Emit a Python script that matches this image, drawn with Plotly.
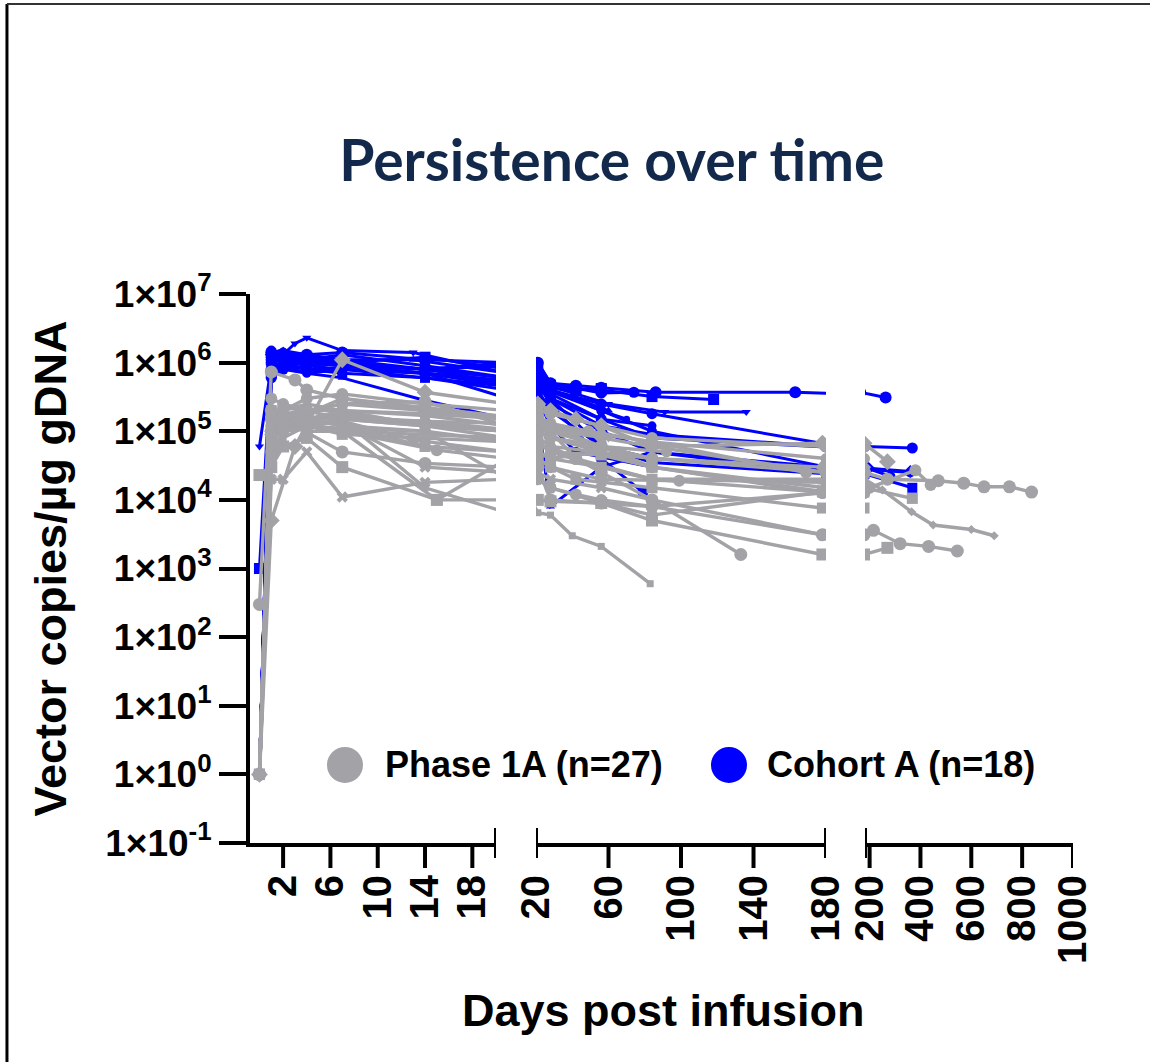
import plotly.graph_objects as go

GRAY = "#A2A2A7"
BLUE = "#0000FF"

# ---------------- data ----------------
# Phase 1A (n=27) : days post infusion / vector copies per ug gDNA
phase1a_days = [
    [0, 1, 3, 4, 7, 14, 21, 28, 35, 56, 84, 180, 270, 470, 570, 650, 750, 837],
    [0, 1, 3, 7, 14, 21, 28, 42, 56, 84, 178, 270],
    [0, 1, 2, 4, 7, 15, 21, 28, 56, 84, 178, 270],
    [0, 1, 2, 4, 7, 14, 21, 28, 40, 56, 83],
    [0, 1, 2, 4, 7, 14, 21, 28, 42, 56, 84, 133],
    [0, 1, 2, 4, 7, 14, 21, 28, 56, 84, 178],
    [0, 1, 3, 7, 14, 21, 28, 56, 84, 178, 215, 320, 432, 545],
    [0, 1, 2, 4, 7, 14, 21, 28, 56, 84, 178],
    [0, 1, 2, 4, 7, 14, 21, 28, 42, 84, 178],
    [0, 1, 2, 4, 7, 14, 21, 28, 56, 84, 180, 250, 365, 450, 600, 690],
    [0, 1, 2, 4, 7, 14, 21, 28, 56, 84, 180],
    [0, 1, 2, 4, 7, 13, 21, 28, 56, 84],
    [0, 1, 2, 4, 7, 14, 21, 28, 49, 84, 169],
    [0, 1, 2, 4, 7, 15, 21, 28, 56, 99],
    [0, 1, 2, 4, 7, 14, 21, 28, 56, 84, 180],
    [0, 1, 2, 4, 7, 15, 21, 28, 42, 84, 178],
    [0, 1, 2, 4, 7, 14, 21, 28, 56, 84, 180, 368],
    [0, 1, 2, 4, 7, 14, 21, 28, 56, 92],
    [0, 1, 2, 4, 7, 14, 21, 28, 56, 84, 180, 200, 380, 440],
    [0, 1, 2, 4, 7, 14, 21, 28, 56, 84, 178],
    [0, 1, 2, 4, 7, 14, 21, 28, 60],
    [0, 1, 2, 4, 7, 14, 21, 28, 42, 56, 84, 178],
    [0, 1, 2, 4, 7, 14, 21, 28, 84],
    [0, 1, 2, 4, 7, 14, 21, 28, 56, 84, 178],
    [0, 1, 2, 4, 7, 14, 21, 28, 56, 84, 180],
    [0, 1, 2, 4, 7, 14, 21, 28, 56, 84, 178],
    [0, 1, 2, 4, 7, 14, 21, 28, 66],
]
phase1a_values = [
    [300, 7.3e5, 5.6e5, 4e5, 3e5, 2.2e5, 1.6e5, 1.2e5, 1e5, 6e4, 4e4, 2.5e4, 2e4, 1.9e4, 1.75e4, 1.55e4, 1.55e4, 1.3e4],
    [1, 5e3, 6e4, 1.1e6, 3.7e5, 2.5e5, 2e5, 1.5e5, 1.2e5, 6e4, 6.7e4, 3.6e4],
    [2.3e4, 3e4, 6e4, 8e4, 3e4, 1e4, 1e4, 9.5e3, 9e3, 5e3, 1.6e3, 2e3],
    [1, 3e4, 8e4, 1.2e5, 1.5e5, 1.5e4, 6.5e3, 6e3, 3e3, 2.1e3, 6e2],
    [1, 2e5, 1.5e5, 2e5, 2.5e5, 2.7e5, 1.2e5, 1e5, 4e4, 2.5e4, 1e4, 1.6e3],
    [1, 1.5e5, 1.2e5, 1.5e5, 1.8e5, 1.3e5, 1e5, 8e4, 5e4, 3e4, 1.26e4],
    [1, 1e5, 1.2e5, 5e4, 3.4e4, 3e4, 1e4, 9e3, 8e3, 3.1e3, 3.6e3, 2.3e3, 2.1e3, 1.8e3],
    [1, 2e4, 2e4, 5e4, 1.1e4, 1.8e4, 2e4, 1.5e4, 9e3, 6e3, 1.3e4],
    [1, 1e5, 2e5, 2.5e5, 2e5, 1.2e5, 8e4, 6e4, 4e4, 2e4, 1.8e4],
    [1, 3e4, 1e5, 1.5e5, 1.2e5, 1e5, 7e4, 5e4, 3e4, 2e4, 2e4, 1.4e4, 6.7e3, 4.3e3, 3.7e3, 3e3],
    [1, 1.2e5, 2e5, 3e5, 3.5e5, 2.5e5, 2e5, 1.8e5, 1.2e5, 8e4, 6e4],
    [1, 8e4, 1.5e5, 1.3e5, 1.4e5, 7.5e4, 5e4, 4e4, 5e4, 3e4],
    [1, 1.5e5, 2.2e5, 2e5, 2.5e5, 2e5, 1.6e5, 1.3e5, 1e5, 7e4, 2.5e4],
    [1, 5e4, 1e5, 1.2e5, 1e5, 5.3e4, 4e4, 3e4, 2e4, 1.9e4],
    [1, 1e5, 1.5e5, 1.8e5, 3e5, 2e5, 1.5e5, 1.2e5, 8e4, 6e4, 2.5e4],
    [1, 7e4, 1.2e5, 1e5, 1e5, 1e4, 4e4, 3e4, 2e4, 1.5e4, 7.6e3],
    [1, 2e5, 1.5e5, 1.2e5, 9e4, 8e4, 7e4, 5e4, 4.5e4, 3e4, 1.5e4, 1.05e4],
    [1, 1e5, 1.8e5, 2e5, 2e5, 1.7e5, 1.2e5, 1e5, 6e4, 5e4],
    [1, 3e5, 2.5e5, 2e5, 1.5e5, 1.2e5, 1e5, 8e4, 6e4, 3e4, 1.3e4, 1.5e4, 2.7e4, 1.65e4],
    [1, 1e5, 1.2e5, 1.4e5, 1.3e5, 3e4, 2.5e4, 2e4, 1.5e4, 1e4, 3.1e3],
    [1, 2e5, 1.8e5, 1.6e5, 1.5e5, 1.4e5, 1.3e5, 1e5, 8e4],
    [1, 1.5e5, 1.3e5, 1.2e5, 1.1e5, 1e5, 2e4, 1.5e4, 1.2e4, 1e4, 8e3, 1.26e4],
    [1, 2e5, 1.5e5, 1.2e5, 1e5, 9e4, 8e4, 6e4, 4e4],
    [1, 6e4, 1.3e5, 1.5e5, 1.2e5, 6e4, 5e4, 4e4, 3e4, 2e4, 1.3e4],
    [1, 1.8e5, 1.6e5, 1.5e5, 2e5, 1.8e5, 1.5e5, 1.2e5, 9e4, 7e4, 4e4],
    [1, 9e4, 1e5, 1.1e5, 1.5e5, 1.2e5, 1e5, 8e4, 6e4, 4e4, 3e4],
    [1, 1.2e5, 1.3e5, 1.4e5, 1.6e5, 1.4e5, 1e5, 8e4, 5e4],
]
phase1a_symbols = [
    "circle", "diamond", "square", "square", "circle", "circle", "circle", "x",
    "triangle-up", "diamond", "circle", "square", "circle", "circle", "diamond",
    "square", "square", "circle", "circle", "x", "triangle-down", "circle",
    "circle", "square", "circle", "diamond", "circle",
]
phase1a_sizes = [13, 13, 12, 7, 13, 12, 13, 10, 9, 7, 12, 11, 12, 12, 11,
                 11, 11, 11, 12, 10, 9, 12, 11, 11, 11, 11, 11]

# Cohort A (n=18)
cohortA_days = [
    [0, 1, 2, 4, 7, 14, 21, 28, 42, 56, 86, 163, 263],
    [0, 1, 2, 4, 7, 14, 21, 28, 42, 56, 84, 118],
    [0, 1, 3, 4, 7, 13, 21, 28, 42, 60, 91, 136],
    [0, 1, 2, 4, 7, 14, 21, 28, 56, 84, 180],
    [0, 1, 2, 4, 7, 14, 21, 28, 56, 84, 180, 368],
    [0, 1, 2, 4, 7, 14, 21, 28, 56, 84, 180, 196, 360],
    [0, 1, 2, 4, 7, 14, 21, 28, 56, 79],
    [0, 1, 2, 4, 7, 14, 21, 28, 56, 84, 180, 368],
    [0, 1, 2, 4, 7, 14, 21, 28, 42, 84],
    [0, 1, 2, 4, 7, 14, 21, 28, 56, 84, 180],
    [0, 1, 2, 4, 7, 14, 21, 28, 56, 84, 180],
    [0, 1, 2, 4, 7, 14, 21, 28, 56, 84],
    [0, 1, 2, 4, 7, 14, 21, 28, 56, 70],
    [0, 1, 2, 4, 7, 14, 21, 28, 42, 56],
    [0, 1, 2, 4, 7, 14, 21, 28, 56, 84, 180, 282],
    [0, 1, 2, 4, 7, 14, 21, 28, 56, 84, 180, 360],
    [0, 1, 2, 4, 7, 13, 21, 28, 42, 60],
    [0, 1, 2, 4, 7, 14, 21, 28, 56, 74],
]
cohortA_values = [
    [1, 1.4e6, 1.2e6, 1.3e6, 1.4e6, 1.1e6, 1e6, 5e5, 4.6e5, 4.3e5, 3.7e5, 3.7e5, 3.1e5],
    [1e3, 1.1e6, 1.3e6, 1.2e6, 1e6, 1.2e6, 8e5, 4.7e5, 4.2e5, 4e5, 3.2e5, 2.9e5],
    [6e4, 9e5, 1.9e6, 2.3e6, 1.5e6, 1.4e6, 7e5, 4.5e5, 3.5e5, 2.5e5, 1.9e5, 1.9e5],
    [1, 8e5, 1e6, 1.1e6, 1.3e6, 9e5, 6e5, 3.5e5, 1.5e5, 8e4, 5.9e4],
    [1, 1e6, 1.2e6, 1e6, 9e5, 7e5, 5.5e5, 3e5, 1.2e5, 9e4, 6e4, 5.7e4],
    [1, 1.3e6, 1.1e6, 9e5, 8e5, 7e5, 5e5, 2.5e5, 1e5, 5e4, 3e4, 2.9e4, 2.6e4],
    [1, 6e5, 8e5, 9e5, 1e6, 8e5, 5e5, 2.5e5, 4e4, 1.3e4],
    [1, 1e6, 9e5, 8e5, 7e5, 6e5, 4e5, 2e5, 6e4, 3.5e4, 2.4e4, 1.5e4],
    [1, 1.2e6, 1e6, 8e5, 8e5, 7e5, 3e5, 1.2e5, 5e4, 3e4],
    [1, 1e6, 9e5, 7e5, 6e5, 2.8e5, 1.5e5, 8e3, 3e4, 5e4, 2.5e4],
    [1, 1.1e6, 1.3e6, 1.2e6, 1e6, 8e5, 6e5, 4e5, 2.5e5, 1.8e5, 6.5e4],
    [1, 9e5, 8e5, 7e5, 8e5, 6e5, 4.5e5, 3e5, 1.5e5, 1.2e5],
    [1, 1.5e6, 1.2e6, 1e6, 9e5, 8e5, 9e5, 4e5, 2e5, 1.5e5],
    [1, 7e5, 9e5, 1e6, 9e5, 7e5, 4.5e5, 4.2e5, 4e5, 4.2e5],
    [1, 1.5e6, 1.4e6, 1.2e6, 1e6, 8e5, 6e5, 3.8e5, 2e5, 1e5, 3e4, 2.2e4],
    [1, 1e6, 1.2e6, 1.1e6, 9e5, 7e5, 5e5, 3e5, 6e4, 4e4, 2.8e4, 2.5e4],
    [1, 1.2e6, 1.5e6, 1.3e6, 1.1e6, 1.1e6, 7e5, 4e5, 3e5, 2e5],
    [1, 1.2e6, 1e6, 1e6, 1.1e6, 8e5, 1e6, 5e5, 3.6e5, 3.7e5],
]
cohortA_symbols = [
    "circle", "square", "triangle-down", "circle", "circle", "diamond", "circle",
    "square", "circle", "triangle-up", "circle", "circle", "circle", "square",
    "circle", "circle", "triangle-up", "circle",
]
cohortA_sizes = [12, 11, 8, 11, 11, 10, 11, 10, 10, 8, 11, 9, 7, 11, 10, 10, 8, 11]

# axes
y_tickvals = [1e-1, 1e0, 1e1, 1e2, 1e3, 1e4, 1e5, 1e6, 1e7]
y_ticktext = ["1×10<sup>-1</sup>", "1×10<sup>0</sup>", "1×10<sup>1</sup>",
              "1×10<sup>2</sup>", "1×10<sup>3</sup>", "1×10<sup>4</sup>",
              "1×10<sup>5</sup>", "1×10<sup>6</sup>", "1×10<sup>7</sup>"]
seg_ticks = [[2, 6, 10, 14, 18], [20, 60, 100, 140, 180], [200, 400, 600, 800, 1000]]
seg_ranges = [[-0.8, 20], [20, 180], [182, 1000]]
seg_domains = [[0, 0.2989], [0.3475, 0.6999], [0.7473, 1.0]]
seg_axes = ["x", "x2", "x3"]
# segment-end caps (axis break markers)
seg_caps = [[20], [20, 180], [182]]

legend_labels = ["Phase 1A (n=27)", "Cohort A (n=18)"]

# ---------------- figure ----------------
fig = go.Figure()

groups = [
    (cohortA_days, cohortA_values, cohortA_symbols, cohortA_sizes, BLUE, 3),
    (phase1a_days, phase1a_values, phase1a_symbols, phase1a_sizes, GRAY, 3.4),
]
for days, vals, syms, sizes, col, lw in groups:
    for d, v, s, sz in zip(days, vals, syms, sizes):
        for ax in seg_axes:
            fig.add_trace(go.Scatter(
                x=d, y=v, xaxis=ax, yaxis="y", mode="lines+markers",
                line=dict(color=col, width=lw),
                marker=dict(symbol=s, size=sz, color=col, line=dict(width=0, color=col)),
                showlegend=False, hoverinfo="skip"))

tickfont = dict(family="Liberation Sans, Arial", size=40, color="black", weight="bold")
axis_common = dict(showline=True, linewidth=4, linecolor="black", showgrid=False,
                   zeroline=False, mirror=False)

layout = dict(
    width=1150, height=1062,
    margin=dict(l=250, r=77, t=294, b=219, pad=0),
    paper_bgcolor="white", plot_bgcolor="white",
    showlegend=False,
    title=dict(text="Persistence over time", x=0.532, xanchor="center",
               y=0.8484, yanchor="middle", yref="container",
               font=dict(family="Lato, Open Sans", size=57, color="#13294B", weight="bold")),
    yaxis=dict(type="log", range=[-1, 7], domain=[0, 1], anchor="x",
               tickmode="array", tickvals=y_tickvals, ticktext=y_ticktext,
               ticks="outside", ticklen=27, tickwidth=4, tickcolor="black",
               tickfont=dict(family="Liberation Sans, Arial", size=37, color="black", weight="bold"),
               **axis_common),
)
for i, ax in enumerate(seg_axes):
    key = "xaxis" if i == 0 else f"xaxis{i+1}"
    layout[key] = dict(domain=seg_domains[i], range=seg_ranges[i], anchor="y",
                       tickmode="array", tickvals=seg_ticks[i],
                       ticktext=[str(t) for t in seg_ticks[i]],
                       ticks="", tickangle=-90, ticklabelstandoff=12,
                       tickfont=tickfont, **axis_common)
fig.update_layout(**layout)

shapes = []
# tick marks (down from axis), skipping the cap positions
for i, ax in enumerate(seg_axes):
    for t in seg_ticks[i]:
        if t in seg_caps[i]:
            continue
        shapes.append(dict(type="line", xref=ax, yref="paper", x0=t, x1=t,
                           ysizemode="pixel", yanchor=0, y0=0, y1=-25,
                           line=dict(color="black", width=4)))
    for c in seg_caps[i]:
        shapes.append(dict(type="line", xref=ax, yref="paper", x0=c, x1=c,
                           ysizemode="pixel", yanchor=0, y0=-15, y1=15,
                           line=dict(color="black", width=4)))

# legend circles
legend_colors = [GRAY, BLUE]
legend_x = [0.1154, 0.582]
legend_text_x = [0.1616, 0.6258]
legend_y = 0.1421
for cx, col in zip(legend_x, legend_colors):
    shapes.append(dict(type="circle", xref="paper", yref="paper",
                       xsizemode="pixel", ysizemode="pixel",
                       xanchor=cx, yanchor=legend_y, x0=-18, x1=18, y0=-18, y1=18,
                       fillcolor=col, line=dict(width=0)))

# figure frame (left and top edges)
shapes.append(dict(type="line", xref="paper", yref="paper",
                   x0=-0.2953, x1=-0.2953, y0=-0.40, y1=1.5282,
                   line=dict(color="black", width=3)))
shapes.append(dict(type="line", xref="paper", yref="paper",
                   x0=-0.2953, x1=1.10, y0=1.5282, y1=1.5282,
                   line=dict(color="#333333", width=2)))
fig.update_layout(shapes=shapes)

annotations = []
for tx, lab in zip(legend_text_x, legend_labels):
    annotations.append(dict(text=lab, xref="paper", yref="paper", x=tx, y=legend_y,
                            xanchor="left", yanchor="middle", showarrow=False,
                            font=dict(family="Liberation Sans, Arial", size=36,
                                      color="black", weight="bold")))
annotations.append(dict(text="Vector copies/µg gDNA", xref="paper", yref="paper",
                        x=-0.243, y=0.5, xanchor="center", yanchor="middle",
                        textangle=-90, showarrow=False,
                        font=dict(family="Liberation Sans, Arial", size=45,
                                  color="black", weight="bold")))
annotations.append(dict(text="Days post infusion", xref="paper", yref="paper",
                        x=0.502, y=-0.3042, xanchor="center", yanchor="middle",
                        showarrow=False,
                        font=dict(family="Liberation Sans, Arial", size=45,
                                  color="black", weight="bold")))
fig.update_layout(annotations=annotations)

fig.write_html("out.html", config={"displayModeBar": False},
               post_script="document.body.style.margin='0';document.body.style.overflow='hidden';")
